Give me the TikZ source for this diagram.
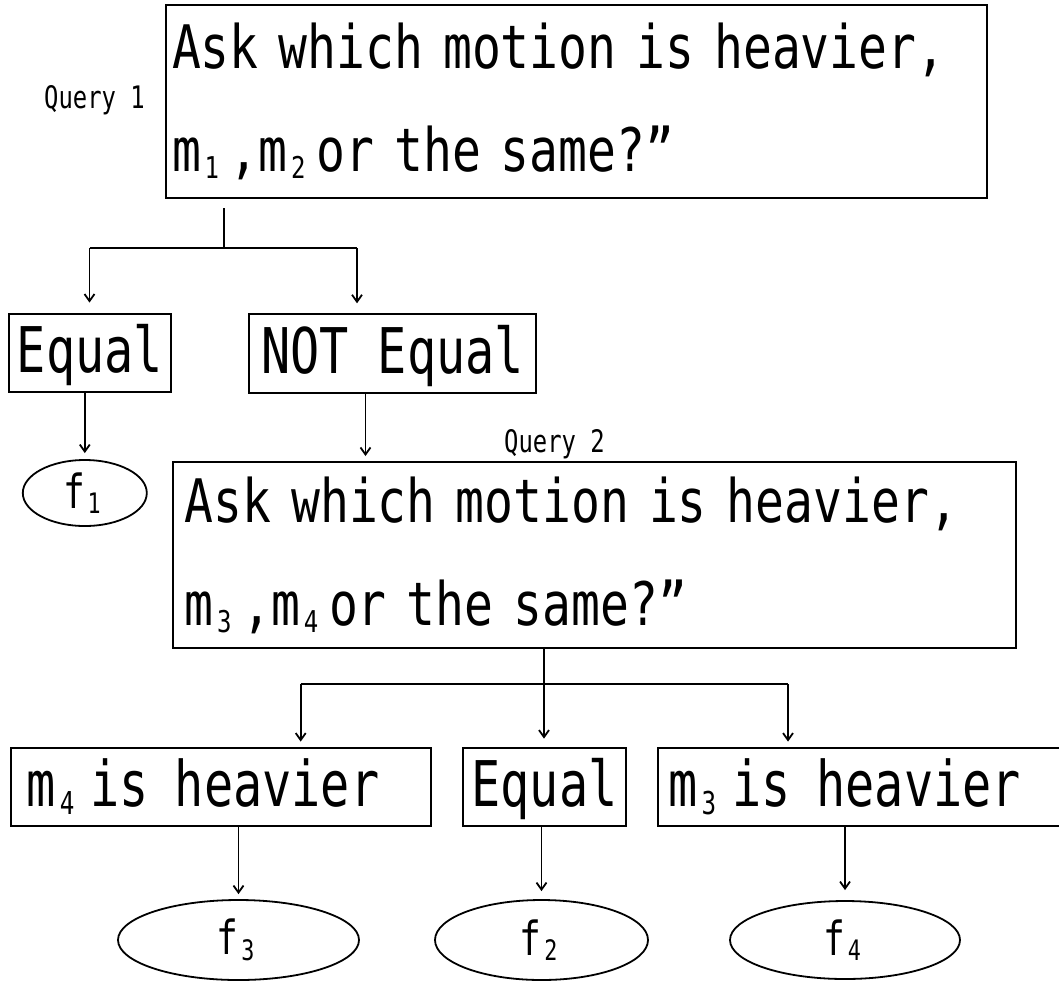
\documentclass[tikz,border=0pt]{standalone}
\usepackage{fontspec}
\usepackage{graphicx}
\usetikzlibrary{arrows.meta,shapes.geometric}
\newfontfamily\gothic[FakeStretch=0.77]{DejaVu Sans Mono}
\newfontfamily\qgothic[FakeStretch=0.80]{DejaVu Sans Mono}
\newcommand{\msub}[2][0.5]{\rlap{\hspace{0.06em}\raisebox{-0.12em}{\scalebox{#1}{#2}}}\hphantom{0}}
\newcommand{\qfont}{\qgothic\fontsize{60}{103}\selectfont}
\newcommand{\afont}{\gothic\fontsize{63}{63}\selectfont}
\newcommand{\ffont}{\gothic\fontsize{47}{47}\selectfont}
\newcommand{\lfont}{\gothic\fontsize{31}{31}\selectfont}
\tikzset{
  qbox/.style={draw, rectangle, line width=2pt, align=left, font=\qfont, inner ysep=0pt},
  abox/.style={draw, rectangle, line width=2pt, font=\afont, inner ysep=0pt,
    text height=48pt, text depth=8pt, minimum height=78.4},
  leaf/.style={draw, ellipse, line width=1.8pt, inner sep=0pt, font=\ffont},
  qlabel/.style={font=\lfont, anchor=base, inner sep=0pt},
  arr/.style={-{Straight Barb[length=7pt,width=10pt]}, line width=1.8pt}
}

\begin{document}
\begin{tikzpicture}[x=1pt, y=-1pt, line width=1.8pt]
    \useasboundingbox (0,0) rectangle (1059,980);
    \node[qbox, inner xsep=6.5pt, minimum width=821.5, minimum height=193, text width=808.5] (q1) at (576.25,101.5)
        {Ask which motion is heavier,\\m\msub{1},m\msub{2}or the same?”};
    \node[qlabel] (l1) at (94.5,108) {Query 1};
    \node[abox, minimum width=162] (eq1) at (90,352.75) {Equal};
    \node[abox, minimum width=287] (neq) at (392.5,353.5) {NOT Equal};
    \node[leaf, minimum width=124, minimum height=66] (f1) at (84.8,493) {f\msub[0.6]{1}};
    \node[qbox, inner xsep=12pt, minimum width=843.4, minimum height=186, text width=819.4] (q2) at (594.3,555)
        {Ask which motion is heavier,\\m\msub{3},m\msub{4}or the same?”};
    \node[qlabel] (l2) at (554.5,452.6) {Query 2};
    \node[abox, align=left, inner xsep=16pt, minimum width=420, text width=388] (m4) at (221,786.8)
        {m\msub{4}\hspace{0.08em}is\hspace{0.08em} heavier};
    \node[abox, minimum width=163] (eq2) at (544.5,786.8) {Equal};
    \node[abox, align=left, inner xsep=11pt, minimum width=420, text width=398] (m3) at (867.7,786.8)
        {m\msub{3}\hspace{0.08em}is\hspace{0.08em} heavier};
    \node[leaf, minimum width=241, minimum height=80] (f3) at (238.5,940) {f\msub[0.6]{3}};
    \node[leaf, minimum width=213, minimum height=80] (f2) at (541.5,940) {f\msub[0.6]{2}};
    \node[leaf, minimum width=230, minimum height=78] (f4) at (845,940) {f\msub[0.6]{4}};

    \coordinate (j1) at (224,248);
    \coordinate (j1l) at (89.5,248);
    \coordinate (j1r) at (357,248);
    \draw (j1 |- q1.south) ++(0,9) -- (j1);
    \draw (j1l) -- (j1r);
    \draw[arr, shorten >=10pt] (j1l) -- (j1l |- eq1.north);
    \draw[arr, shorten >=10pt] (j1r) -- (j1r |- neq.north);
    \draw[arr, shorten >=6pt] (f1.north |- eq1.south) -- (f1.north);
    \coordinate (n1) at (365.5,400);
    \draw[arr, shorten >=5pt] (n1 |- neq.south) -- (n1 |- q2.north);

    \coordinate (j2) at (544,684);
    \coordinate (j2l) at (300.7,684);
    \coordinate (j2r) at (788,684);
    \draw (j2 |- q2.south) -- (j2);
    \draw (j2l) -- (j2r);
    \draw[arr, shorten >=5pt] (j2l) -- (j2l |- m4.north);
    \draw[arr, shorten >=8pt] (j2) -- (j2 |- eq2.north);
    \draw[arr, shorten >=5pt] (j2r) -- (j2r |- m3.north);
    \draw[arr, shorten >=5pt] (f3.north |- m4.south) -- (f3.north);
    \draw[arr, shorten >=8pt] (f2.north |- eq2.south) -- (f2.north);
    \draw[arr, shorten >=10pt] (f4.north |- m3.south) -- (f4.north);
\end{tikzpicture}
\end{document}
